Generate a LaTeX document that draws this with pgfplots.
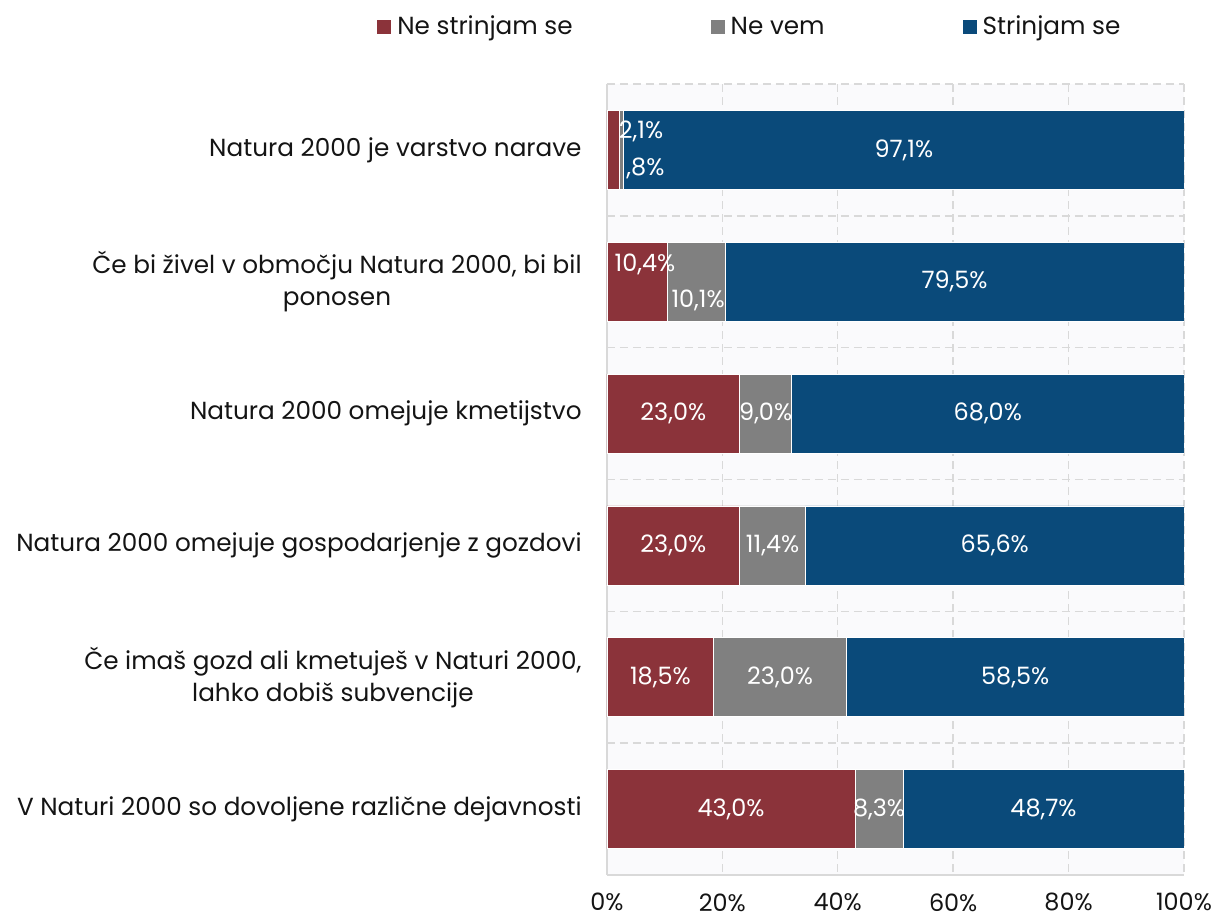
\documentclass[border=0pt]{standalone}
\usepackage{fontspec}
\setmainfont{Poppins}
\usepackage{pgfplots}
\usepackage{pgfplotstable}
\pgfplotsset{compat=1.18}
\definecolor{cRed}{RGB}{139,51,58}
\definecolor{cGray}{RGB}{128,128,128}
\definecolor{cBlue}{RGB}{10,74,122}
\definecolor{cBg}{RGB}{250,250,252}
\definecolor{cGrid}{RGB}{217,217,217}
\definecolor{cText}{RGB}{20,20,20}

\pgfplotstableread{
y x lab dx dy
0 2.1 2,1 14 9.5
1 10.4 10,4 4 8.5
2 23.0 23,0 0 0
3 23.0 23,0 0 0
4 18.5 18,5 0 0
5 43.0 43,0 0 0
}\tabRed
\pgfplotstableread{
y x lab dx dy
0 0.8 ,8 12 -9.5
1 10.1 10,1 1 -9.5
2 9.0 9,0 0 0
3 11.4 11,4 0 0
4 23.0 23,0 0 0
5 8.3 8,3 0 0
}\tabGray
\pgfplotstableread{
y x lab dx dy
0 97.1 97,1 0 0
1 79.5 79,5 0 0
2 68.0 68,0 0 0
3 65.6 65,6 0 0
4 58.5 58,5 0 0
5 48.7 48,7 0 0
}\tabBlue

\begin{document}
\begin{tikzpicture}
\begin{axis}[
  scale only axis, width=288.5bp, height=395.5bp,
  xbar stacked, bar width=39.5bp,
  y dir=reverse,
  xmin=0, xmax=100, ymin=-0.5, ymax=5.5,
  xtick={0,20,...,100},
  xticklabels={0\%,20\%,40\%,60\%,80\%,100\%},
  ytick={0,...,5},
  yticklabels={
    {Natura 2000 je varstvo narave},
    {Če bi živel v območju Natura 2000, bi bil\\ponosen},
    {Natura 2000 omejuje kmetijstvo},
    {Natura 2000 omejuje gospodarjenje z gozdovi},
    {Če imaš gozd ali kmetuješ v Naturi 2000,\\lahko dobiš subvencije},
    {V Naturi 2000 so dovoljene različne dejavnosti}},
  minor ytick={-0.5,0.5,...,5.5},
  xmajorgrids, yminorgrids,
  major grid style={cGrid, dash pattern=on 4bp off 2.5bp, line width=0.7bp},
  minor grid style={cGrid, dash pattern=on 4bp off 2.5bp, line width=0.7bp},
  axis background/.style={fill=cBg},
  axis x line*=bottom, axis y line*=left,
  axis line style={cGrid, line width=0.8bp, -},
  major tick length=0pt, minor tick length=0pt,
  yticklabel style={font=\fontsize{12.4}{16}\selectfont, text=cText, align=center, anchor=east, inner sep=0pt, xshift=-12.5bp},
  xticklabel style={font=\fontsize{12}{14}\selectfont, text=cText, anchor=north, inner sep=0pt, yshift=-9bp},
  point meta=explicit symbolic,
  nodes near coords={\pgfplotspointmeta\%},
  visualization depends on={\thisrow{dx} \as \myDx},
  visualization depends on={\thisrow{dy} \as \myDy},
  every node near coord/.append style={font=\fontsize{12}{14}\selectfont, text=white, anchor=center, xshift=\myDx bp, yshift=\myDy bp},
  legend columns=3,
  legend style={at={(axis description cs:0,1)}, anchor=west, xshift=-118bp, yshift=28.5bp,
    draw=none, fill=none, font=\fontsize{12.4}{14}\selectfont, text=cText,
    /tikz/every even column/.append style={column sep=66bp},
    nodes={inner xsep=3bp}},
  legend image code/.code={\fill[#1,draw=none] (0bp,-3.5bp) rectangle (7bp,3.5bp);},
]
\addplot[fill=cRed, draw=white, line width=0.3bp] table[x=x, y=y, meta=lab] {\tabRed};
\addlegendentry{Ne strinjam se}
\addplot[fill=cGray, draw=white, line width=0.3bp] table[x=x, y=y, meta=lab] {\tabGray};
\addlegendentry{Ne vem}
\addplot[fill=cBlue, draw=white, line width=0.3bp] table[x=x, y=y, meta=lab] {\tabBlue};
\addlegendentry{Strinjam se}
\end{axis}
\path (current axis.south west) ++(-303.5bp,-22.5bp) coordinate (bl);
\path (current axis.north east) ++(17bp,42bp) coordinate (tr);
\pgfresetboundingbox
\path (bl) rectangle (tr);
\end{tikzpicture}
\end{document}
